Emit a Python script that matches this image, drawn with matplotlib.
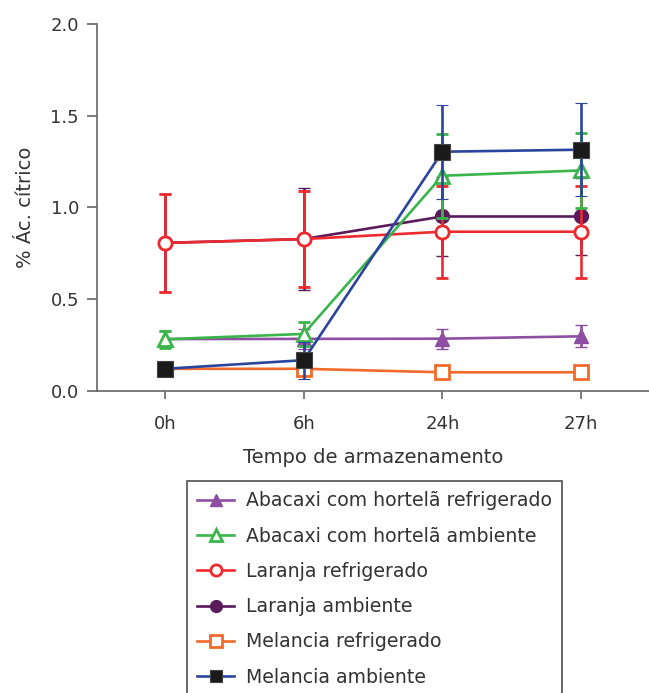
import matplotlib
matplotlib.use("Agg")
import matplotlib.pyplot as plt
from matplotlib.lines import Line2D
import numpy as np

plt.rcParams['font.family'] = ['DejaVu Sans']

times = ["0h", "6h", "24h", "27h"]

abacaxi_ref = [0.283, 0.284, 0.285, 0.298]
abacaxi_ref_err = [0.045, 0.055, 0.055, 0.06]
abacaxi_amb = [0.282, 0.311, 1.173, 1.202]
abacaxi_amb_err = [0.047, 0.064, 0.23, 0.204]
laranja_ref = [0.807, 0.828, 0.868, 0.868]
laranja_ref_err = [0.268, 0.26, 0.25, 0.25]
laranja_amb = [0.807, 0.828, 0.951, 0.951]
laranja_amb_err = [0.268, 0.278, 0.217, 0.21]
melancia_ref = [0.121, 0.121, 0.102, 0.102]
melancia_ref_err = [0.01, 0.03, 0.01, 0.01]
melancia_amb = [0.121, 0.168, 1.304, 1.315]
melancia_amb_err = [0.01, 0.1, 0.257, 0.255]

labels = ["Abacaxi com hortelã refrigerado", "Abacaxi com hortelã ambiente",
          "Laranja refrigerado", "Laranja ambiente",
          "Melancia refrigerado", "Melancia ambiente"]

c_purple = "#8E4FA3"
c_green = "#3AB54A"
c_red = "#EE2A2F"
c_dpurple = "#5A1A5C"
c_orange = "#F26A2A"
c_blue = "#2B459E"

fig = plt.figure(figsize=(6.49, 6.93), dpi=100)
ax = fig.add_axes([97/649, 1-391/693, 1-97/649, (391-24)/693])

x = np.arange(len(times))
lw = 1.9
cap = 4.5
txt = "#333333"

series = [
    (laranja_amb, laranja_amb_err, c_dpurple, dict(marker='o', ms=10, mfc=c_dpurple, mec=c_dpurple, mew=1), labels[3], 2),
    (laranja_ref, laranja_ref_err, c_red, dict(marker='o', ms=9.5, mfc='white', mec=c_red, mew=2), labels[2], 3),
    (abacaxi_ref, abacaxi_ref_err, c_purple, dict(marker='^', ms=10, mfc=c_purple, mec=c_purple, mew=1), labels[0], 4),
    (abacaxi_amb, abacaxi_amb_err, c_green, dict(marker='^', ms=10, mfc='white', mec=c_green, mew=2), labels[1], 5),
    (melancia_ref, melancia_ref_err, c_orange, dict(marker='s', ms=10, mfc='white', mec=c_orange, mew=2), labels[4], 6),
    (melancia_amb, melancia_amb_err, c_blue, dict(marker='s', ms=11, mfc='#1a1a1a', mec='#444444', mew=0.8), labels[5], 7),
]

handles = {}
for vals, err, col, mk, lab, z in series:
    ax.errorbar(x, vals, yerr=err, color=col, ecolor=col, lw=lw, elinewidth=lw,
                capsize=cap, capthick=lw, zorder=z, **mk)
    mk2 = dict(mk)
    mk2['ms'] = mk['ms'] * 0.85
    handles[lab] = Line2D([], [], color=col, lw=lw, **mk2)

ax.set_xlim(-0.49, 3.49)
ax.set_ylim(0, 2.0)
ax.set_xticks(x)
ax.set_xticklabels(times)
ax.set_yticks([0.0, 0.5, 1.0, 1.5, 2.0])
ax.set_yticklabels(["0.0", "0.5", "1.0", "1.5", "2.0"])

for s in ['top', 'right']:
    ax.spines[s].set_visible(False)
for s in ['left', 'bottom']:
    ax.spines[s].set_color('#666666')
    ax.spines[s].set_linewidth(1.2)
ax.tick_params(axis='both', colors='#666666', labelcolor=txt, labelsize=13, width=1.2)
ax.tick_params(axis='y', length=7, pad=6)
ax.tick_params(axis='x', length=6, pad=11)

ax.set_ylabel("% Ác. cítrico", fontsize=14, color=txt, labelpad=11)
ax.set_xlabel("Tempo de armazenamento", fontsize=14, color=txt, labelpad=11)

leg = fig.legend([handles[l] for l in labels], labels, loc='upper left',
                 bbox_to_anchor=(187/649, 1-481/693), fontsize=13.6,
                 frameon=True, fancybox=False, edgecolor='#222222',
                 handlelength=1.95, handletextpad=0.6, labelspacing=0.86,
                 borderpad=0.55, borderaxespad=0)
leg.get_frame().set_linewidth(1.2)
for t in leg.get_texts():
    t.set_color(txt)

fig.savefig("out.png", dpi=100)
